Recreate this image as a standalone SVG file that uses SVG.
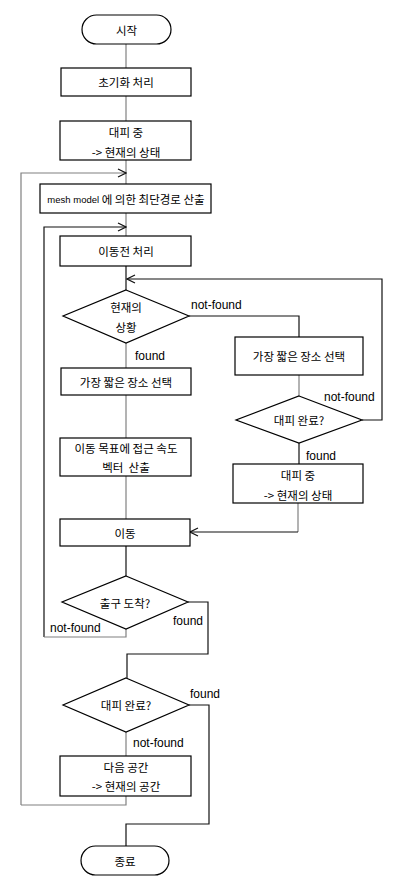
<svg xmlns="http://www.w3.org/2000/svg" width="419" height="879" viewBox="0 0 419 879">
<style>
.n{fill:#fff;stroke:#000;stroke-width:1.2}
.t{font-family:"Noto Sans CJK KR","Liberation Sans",sans-serif;font-size:11.5px;fill:#000;text-anchor:middle;dominant-baseline:central}
.l{font-family:"Liberation Sans","Noto Sans CJK KR",sans-serif;font-size:12px;fill:#000;dominant-baseline:central}
.c{fill:none;stroke:#111;stroke-width:1.2}
.g{fill:none;stroke:#808080;stroke-width:1.2}
</style>
<defs>
<marker id="a" markerWidth="10" markerHeight="10" refX="9" refY="5" orient="auto" markerUnits="userSpaceOnUse">
<path d="M1,1 L9,5 L1,9" fill="none" stroke="#111" stroke-width="1.2"/>
</marker>
</defs>
<g id="connectors">
<path class="g" d="M126,44 V68"/>
<path class="g" d="M126,96 V121"/>
<path class="g" d="M126,160 V184"/>
<path class="g" d="M21,805 V173 H126" marker-end="url(#a)"/>
<path class="g" d="M126,213 V236"/>
<path class="c" d="M44,637 V227 H126" marker-end="url(#a)"/>
<path class="c" d="M126,266 V290"/>
<path class="c" d="M362,420 H382 V279 H127" marker-end="url(#a)"/>
<path class="c" d="M189,316 H299 V337"/>
<path class="g" d="M126,343 V368"/>
<path class="g" d="M126,395 V438"/>
<path class="g" d="M299,375 V396"/>
<path class="c" d="M299,443 V464"/>
<path class="g" d="M298,503 V532"/>
<path class="c" d="M298,532 H190" marker-end="url(#a)"/>
<path class="g" d="M126,476 V519"/>
<path class="c" d="M126,546 V576"/>
<path class="g" d="M126,629 V637 H44"/>
<path class="c" d="M188,602 H208 V654 H127 V678"/>
<path class="c" d="M189,705 H209 V824 H126 V846"/>
<path class="g" d="M126,732 V756"/>
<path class="g" d="M126,796 V805 H21"/>
</g>
<g id="start"><rect class="n" x="82" y="15" width="89" height="29" rx="14.5"/><text class="t" x="126.5" y="30">시작</text></g>
<g id="init"><rect class="n" x="61" y="68" width="130" height="28"/><text class="t" x="126" y="82">초기화 처리</text></g>
<g id="evac1"><rect class="n" x="60" y="121" width="131" height="39"/><text class="t" x="126" y="132">대피 중</text><text class="t" x="126" y="152">-&gt; 현재의 상태</text></g>
<g id="mesh"><rect class="n" x="40" y="184" width="171" height="29"/><text class="t" x="126" y="199"><tspan font-size="9.5px" font-family="Liberation Sans,sans-serif">mesh model</tspan> 에 의한 최단경로 산출</text></g>
<g id="pre"><rect class="n" x="60" y="236" width="131" height="30"/><text class="t" x="126" y="251">이동전 처리</text></g>
<g id="d1"><polygon class="n" points="126,290 189,316 126,343 63,316"/><text class="t" x="126" y="307">현재의</text><text class="t" x="126" y="327">상황</text></g>
<g id="shortR"><rect class="n" x="235" y="337" width="128" height="38"/><text class="t" x="299" y="356">가장 짧은 장소 선택</text></g>
<g id="shortL"><rect class="n" x="61" y="368" width="130" height="27"/><text class="t" x="126" y="382">가장 짧은 장소 선택</text></g>
<g id="d2"><polygon class="n" points="299,396 362,420 299,443 236,420"/><text class="t" x="299" y="420">대피 완료?</text></g>
<g id="evac2"><rect class="n" x="233" y="464" width="130" height="39"/><text class="t" x="298" y="475">대피 중</text><text class="t" x="298" y="495">-&gt; 현재의 상태</text></g>
<g id="vec"><rect class="n" x="60" y="438" width="131" height="38"/><text class="t" x="126" y="448">이동 목표에 접근 속도</text><text class="t" x="126" y="467">벡터&#160; 산출</text></g>
<g id="move"><rect class="n" x="60" y="519" width="130" height="27"/><text class="t" x="125" y="533">이동</text></g>
<g id="d3"><polygon class="n" points="126,576 188,602 126,629 62,602"/><text class="t" x="125" y="603">출구 도착?</text></g>
<g id="d4"><polygon class="n" points="126,678 189,705 126,732 63,705"/><text class="t" x="126" y="705">대피 완료?</text></g>
<g id="next"><rect class="n" x="60" y="756" width="131" height="40"/><text class="t" x="126" y="767">다음 공간</text><text class="t" x="126" y="786">-&gt; 현재의 공간</text></g>
<g id="end"><rect class="n" x="81" y="846" width="88" height="29" rx="14.5"/><text class="t" x="125" y="861">종료</text></g>
<g id="labels">
<text class="l" x="191" y="305">not-found</text>
<text class="l" x="135" y="356">found</text>
<text class="l" x="324" y="397">not-found</text>
<text class="l" x="306" y="456">found</text>
<text class="l" x="50" y="628">not-found</text>
<text class="l" x="173" y="621">found</text>
<text class="l" x="190" y="694">found</text>
<text class="l" x="133" y="743">not-found</text>
</g>
</svg>
